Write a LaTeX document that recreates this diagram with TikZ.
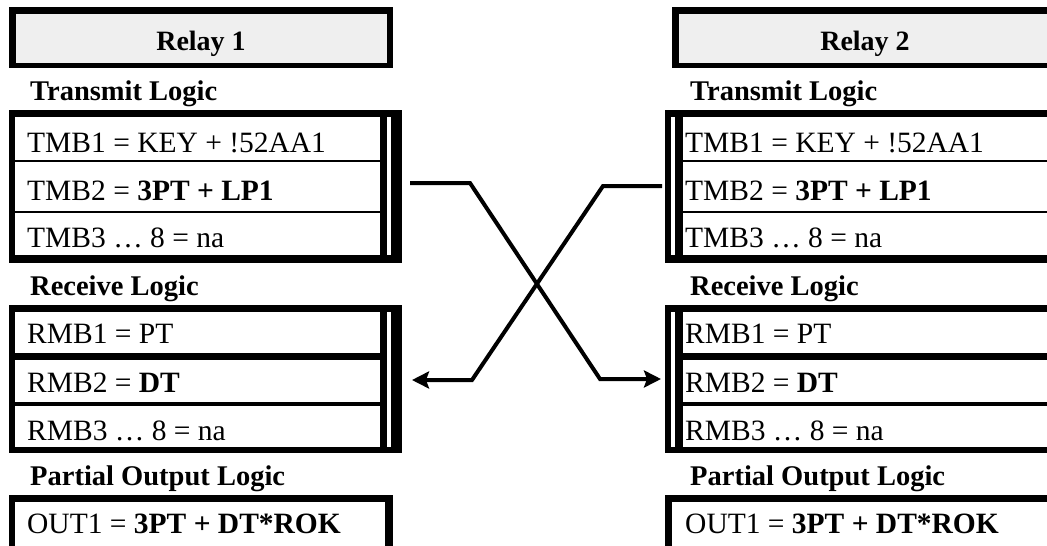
\documentclass[tikz,border=0pt]{standalone}
\usepackage{fontspec}
\setmainfont{Liberation Serif}
\usetikzlibrary{arrows.meta}
\definecolor{hdrgray}{HTML}{EFEFEF}
\tikzset{
  txt/.style={anchor=base west, inner sep=0pt, font=\fontsize{29.5}{33}\selectfont},
  hdr/.style={anchor=base west, inner sep=0pt, font=\fontsize{28.5}{32}\selectfont\bfseries},
  ttl/.style={anchor=base, inner sep=0pt, font=\fontsize{28}{32}\selectfont\bfseries},
  wire/.style={line width=4pt, line join=miter},
  tip/.style={-{Stealth[length=17pt,width=17pt,inset=3pt]}}
}
\begin{document}
\begin{tikzpicture}[x=1pt,y=-1pt]
\clip (0,0) rectangle (1047,546);
\fill[white] (0,0) rectangle (1047,546);
% ---------- Left column (Relay 1) ----------
\fill[black] (9,7) rectangle (393,68);
\fill[hdrgray] (16,14) rectangle (387,63);
\node[ttl] (r1) at (201,50) {Relay 1};
\node[hdr] (txhL) at (30,100) {Transmit Logic};
% transmit frame
\fill[black] (9,110) rectangle (402,263);
\fill[white] (15,117) rectangle (380,255);
\fill[white] (387,117) rectangle (391,255);
\draw[line width=2pt] (15,161) -- (380,161);
\draw[line width=2pt] (15,212) -- (380,212);
\node[txt] (t1L) at (27,152) {TMB1 = KEY + !52AA1};
\node[txt] (t2L) at (27,200) {TMB2 = \textbf{3PT + LP1}};
\node[txt] (t3L) at (27,247) {TMB3 … 8 = na};
\node[hdr] (rxhL) at (30,295) {Receive Logic};
% receive frame
\fill[black] (9,305) rectangle (402,453);
\fill[white] (15,312) rectangle (380,447);
\fill[white] (387,312) rectangle (391,447);
\fill[black] (15,353) rectangle (380,360);
\fill[black] (15,402) rectangle (380,406);
\node[txt] (r1L) at (27,343) {RMB1 = PT};
\node[txt] (r2L) at (27,392) {RMB2 = \textbf{DT}};
\node[txt] (r3L) at (27,440) {RMB3 … 8 = na};
\node[hdr] (ohL) at (30,485) {Partial Output Logic};
% output frame
\fill[black] (9,495) rectangle (393,560);
\fill[white] (15,502) rectangle (385,560);
\node[txt] (o1L) at (27,533) {OUT1 = \textbf{3PT + DT*ROK}};
% ---------- Right column (Relay 2) ----------
\fill[black] (672,7) rectangle (1070,68);
\fill[hdrgray] (679,14) rectangle (1070,63);
\node[ttl] (r2) at (865,50) {Relay 2};
\node[hdr] (txhR) at (690,100) {Transmit Logic};
\fill[black] (665,110) rectangle (1070,263);
\fill[white] (683,117) rectangle (1070,255);
\fill[white] (671,117) rectangle (675,255);
\draw[line width=2pt] (683,161) -- (1070,161);
\draw[line width=2pt] (683,212) -- (1070,212);
\node[txt] (t1R) at (685,152) {TMB1 = KEY + !52AA1};
\node[txt] (t2R) at (685,200) {TMB2 = \textbf{3PT + LP1}};
\node[txt] (t3R) at (685,247) {TMB3 … 8 = na};
\node[hdr] (rxhR) at (690,295) {Receive Logic};
\fill[black] (665,305) rectangle (1070,453);
\fill[white] (683,312) rectangle (1070,447);
\fill[white] (671,312) rectangle (675,447);
\fill[black] (683,353) rectangle (1070,360);
\fill[black] (683,402) rectangle (1070,406);
\node[txt] (r1R) at (685,343) {RMB1 = PT};
\node[txt] (r2R) at (685,392) {RMB2 = \textbf{DT}};
\node[txt] (r3R) at (685,440) {RMB3 … 8 = na};
\node[hdr] (ohR) at (690,485) {Partial Output Logic};
\fill[black] (665,495) rectangle (1070,560);
\fill[white] (672,502) rectangle (1070,560);
\node[txt] (o1R) at (685,533) {OUT1 = \textbf{3PT + DT*ROK}};
% ---------- Connectors ----------
\coordinate (aStart) at (410,183);
\coordinate (aBend1) at (470,183);
\coordinate (aBend2) at (600,379);
\coordinate (aEnd) at (661,379);
\coordinate (bStart) at (662,186);
\coordinate (bBend1) at (603,186);
\coordinate (bBend2) at (472,380);
\coordinate (bEnd) at (412,380);
\draw[wire,tip] (aStart) -- (aBend1) -- (aBend2) -- (aEnd);
\draw[wire,tip] (bStart) -- (bBend1) -- (bBend2) -- (bEnd);
\end{tikzpicture}
\end{document}
